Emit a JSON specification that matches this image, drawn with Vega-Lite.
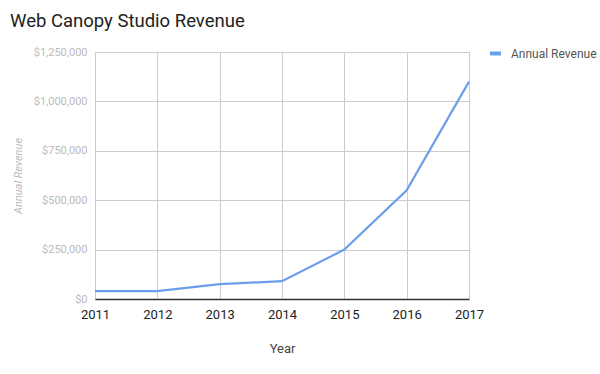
{
  "$schema": "https://vega.github.io/schema/vega-lite/v6.json",
  "width": 374,
  "height": 247,
  "autosize": {"type": "none"},
  "padding": {"left": 95, "top": 52, "right": 131, "bottom": 75},
  "background": "white",
  "config": {"font": "Roboto", "view": {"stroke": null}},
  "title": {
    "text": "Web Canopy Studio Revenue",
    "anchor": "start",
    "frame": "group",
    "dx": -85,
    "offset": 16,
    "fontSize": 18.5,
    "fontWeight": "normal",
    "color": "#222222",
    "font": "Roboto"
  },
  "data": {
    "values": [
      {"Year": 2011, "Revenue": 40000, "Series": "Annual Revenue"},
      {"Year": 2012, "Revenue": 40000, "Series": "Annual Revenue"},
      {"Year": 2013, "Revenue": 75000, "Series": "Annual Revenue"},
      {"Year": 2014, "Revenue": 90000, "Series": "Annual Revenue"},
      {"Year": 2015, "Revenue": 250000, "Series": "Annual Revenue"},
      {"Year": 2016, "Revenue": 550000, "Series": "Annual Revenue"},
      {"Year": 2017, "Revenue": 1100000, "Series": "Annual Revenue"}
    ]
  },
  "mark": {"type": "line", "strokeWidth": 2.2},
  "encoding": {
    "x": {
      "field": "Year",
      "type": "quantitative",
      "scale": {"domain": [2011, 2017], "nice": false, "zero": false},
      "axis": {
        "title": "Year",
        "values": [2011, 2012, 2013, 2014, 2015, 2016, 2017],
        "format": "d",
        "grid": true,
        "gridColor": "#cccccc",
        "ticks": false,
        "domain": true,
        "domainColor": "#333333",
        "domainWidth": 1.5,
        "labelFontSize": 13,
        "labelColor": "#222222",
        "labelPadding": 9,
        "labelFlush": false,
        "titleFontSize": 13,
        "titleFontWeight": "normal",
        "titleColor": "#444444",
        "titlePadding": 21
      }
    },
    "y": {
      "field": "Revenue",
      "type": "quantitative",
      "scale": {"domain": [0, 1250000], "nice": false},
      "axis": {
        "title": "Annual Revenue",
        "values": [0, 250000, 500000, 750000, 1000000, 1250000],
        "format": "$,.0f",
        "grid": true,
        "gridColor": "#cccccc",
        "ticks": false,
        "domain": false,
        "labelFontSize": 11,
        "labelColor": "#bbbbbb",
        "labelPadding": 8,
        "titleFontSize": 11,
        "titleFontStyle": "italic",
        "titleFontWeight": "normal",
        "titleColor": "#bbbbbb",
        "titlePadding": 10
      }
    },
    "color": {
      "field": "Series",
      "type": "nominal",
      "scale": {"range": ["#6d9eeb"]},
      "legend": {
        "title": null,
        "orient": "none",
        "legendX": 393,
        "legendY": -6,
        "symbolType": "M-1,0H1",
        "symbolStrokeWidth": 4,
        "symbolSize": 121,
        "labelFontSize": 12,
        "labelColor": "#555555",
        "labelOffset": 8
      }
    }
  }
}
